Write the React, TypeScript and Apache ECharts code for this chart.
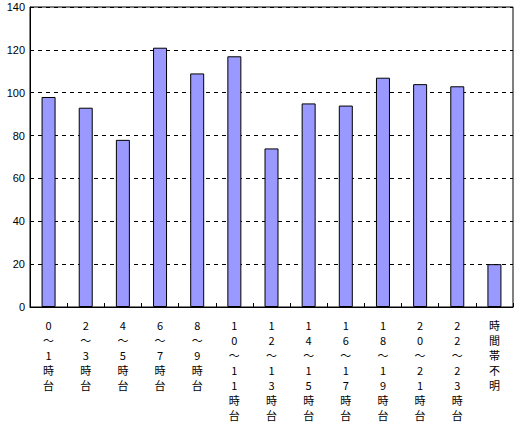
import React, { useEffect, useRef } from "react";
import * as echarts from "echarts";

const categories = [
  "0～1時台", "2～3時台", "4～5時台", "6～7時台", "8～9時台",
  "10～11時台", "12～13時台", "14～15時台", "16～17時台", "18～19時台",
  "20～21時台", "22～23時台", "時間帯不明",
];
const values = [98, 93, 78, 121, 109, 117, 74, 95, 94, 107, 104, 103, 20];
const yTicks = [0, 20, 40, 60, 80, 100, 120, 140];

export default function App() {
  const ref = useRef<HTMLDivElement>(null);
  useEffect(() => {
    const chart = echarts.init(ref.current!, null, { renderer: "svg" });
    const font = "'Noto Sans CJK JP', sans-serif";
    chart.setOption({
      animation: false,
      backgroundColor: "#ffffff",
      grid: {
        left: 30, right: 5, top: 7, bottom: 111,
        show: true, borderColor: "#000", borderWidth: 1,
      },
      xAxis: {
        type: "category",
        data: categories,
        axisLine: { show: true, lineStyle: { color: "#000", width: 1 } },
        axisTick: { show: true, inside: true, length: 4, lineStyle: { color: "#000" } },
        axisLabel: {
          interval: 0,
          margin: 10,
          color: "#000",
          fontSize: 11,
          fontFamily: font,
          lineHeight: 15,
          formatter: (v: string) => Array.from(v).join("\n"),
        },
      },
      yAxis: {
        type: "value",
        min: yTicks[0],
        max: yTicks[yTicks.length - 1],
        interval: 20,
        axisLine: { show: true, lineStyle: { color: "#000", width: 1 } },
        axisTick: { show: false },
        axisLabel: {
          color: "#000", fontSize: 11, lineHeight: 12,
          fontFamily: "'Liberation Sans', sans-serif", margin: 5,
        },
        splitLine: { show: true, lineStyle: { color: "#000", type: [4, 4], width: 1 } },
      },
      series: [
        {
          type: "bar",
          data: values,
          barWidth: 14,
          itemStyle: { color: "#9999ff", borderColor: "#000", borderWidth: 1 },
        },
      ],
    });
    return () => chart.dispose();
  }, []);
  return (
    <div
      ref={ref}
      style={{ position: "fixed", left: 0, top: 0, width: 518, height: 422, background: "#fff" }}
    />
  );
}
